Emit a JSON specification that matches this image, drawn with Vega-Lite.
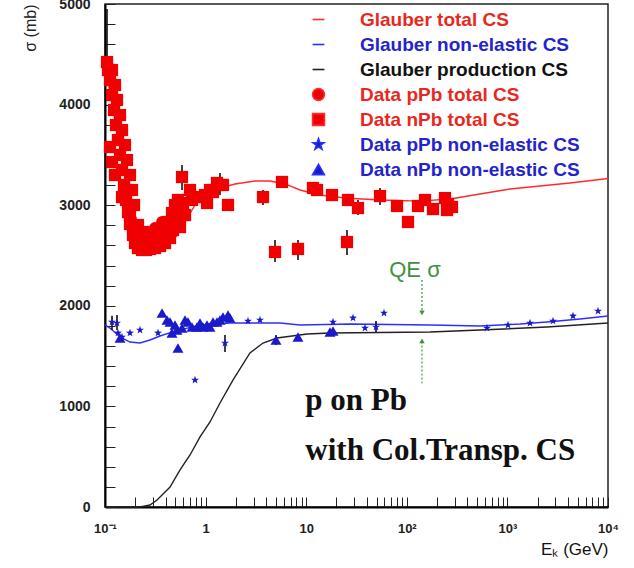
{
"$schema":"https://vega.github.io/schema/vega-lite/v6.json",
"width":503,"height":503,
"autosize":{"type":"none"},
"padding":{"left":105,"top":4,"right":26,"bottom":61},
"background":"white",
"config":{"view":{"stroke":"#222","strokeWidth":1.5},"font":"Liberation Sans"},
"resolve":{"axis":{"x":"independent","y":"independent"},"legend":{"color":"independent","shape":"independent"}},
"datasets":{
"curves":[
{"series":"Glauber total CS","E":0.1,"s":4400},{"series":"Glauber total CS","E":0.1257,"s":3847},{"series":"Glauber total CS","E":0.158,"s":3350},{"series":"Glauber total CS","E":0.1987,"s":2902},{"series":"Glauber total CS","E":0.2498,"s":2654},{"series":"Glauber total CS","E":0.314,"s":2555},{"series":"Glauber total CS","E":0.395,"s":2574},{"series":"Glauber total CS","E":0.4966,"s":2674},{"series":"Glauber total CS","E":0.624,"s":2833},{"series":"Glauber total CS","E":0.785,"s":3002},{"series":"Glauber total CS","E":0.986,"s":3101},{"series":"Glauber total CS","E":1.39,"s":3171},{"series":"Glauber total CS","E":1.96,"s":3211},{"series":"Glauber total CS","E":3.1,"s":3240},{"series":"Glauber total CS","E":4.37,"s":3240},{"series":"Glauber total CS","E":6.16,"s":3211},{"series":"Glauber total CS","E":8.68,"s":3151},{"series":"Glauber total CS","E":13.7,"s":3101},{"series":"Glauber total CS","E":24.3,"s":3071},{"series":"Glauber total CS","E":54.2,"s":3051},{"series":"Glauber total CS","E":135,"s":3041},{"series":"Glauber total CS","E":269,"s":3061},{"series":"Glauber total CS","E":534,"s":3111},{"series":"Glauber total CS","E":1061,"s":3161},{"series":"Glauber total CS","E":2109,"s":3191},{"series":"Glauber total CS","E":4192,"s":3220},{"series":"Glauber total CS","E":10000,"s":3265},
{"series":"Glauber non-elastic CS","E":0.1,"s":1810},{"series":"Glauber non-elastic CS","E":0.112,"s":1779},{"series":"Glauber non-elastic CS","E":0.141,"s":1690},{"series":"Glauber non-elastic CS","E":0.177,"s":1640},{"series":"Glauber non-elastic CS","E":0.223,"s":1630},{"series":"Glauber non-elastic CS","E":0.28,"s":1660},{"series":"Glauber non-elastic CS","E":0.352,"s":1700},{"series":"Glauber non-elastic CS","E":0.497,"s":1749},{"series":"Glauber non-elastic CS","E":0.88,"s":1809},{"series":"Glauber non-elastic CS","E":1.75,"s":1829},{"series":"Glauber non-elastic CS","E":5.49,"s":1829},{"series":"Glauber non-elastic CS","E":8.68,"s":1809},{"series":"Glauber non-elastic CS","E":27.3,"s":1819},{"series":"Glauber non-elastic CS","E":170,"s":1809},{"series":"Glauber non-elastic CS","E":534,"s":1799},{"series":"Glauber non-elastic CS","E":1334,"s":1819},{"series":"Glauber non-elastic CS","E":2475,"s":1839},{"series":"Glauber non-elastic CS","E":5269,"s":1869},{"series":"Glauber non-elastic CS","E":10000,"s":1899},
{"series":"Glauber production CS","E":0.1,"s":0},{"series":"Glauber production CS","E":0.223,"s":0},{"series":"Glauber production CS","E":0.28,"s":20},{"series":"Glauber production CS","E":0.329,"s":70},{"series":"Glauber production CS","E":0.443,"s":199},{"series":"Glauber production CS","E":0.557,"s":368},{"series":"Glauber production CS","E":0.7,"s":517},{"series":"Glauber production CS","E":0.88,"s":696},{"series":"Glauber production CS","E":1.106,"s":845},{"series":"Glauber production CS","E":1.39,"s":1034},{"series":"Glauber production CS","E":1.87,"s":1262},{"series":"Glauber production CS","E":2.76,"s":1531},{"series":"Glauber production CS","E":3.72,"s":1630},{"series":"Glauber production CS","E":5.13,"s":1680},{"series":"Glauber production CS","E":10.2,"s":1720},{"series":"Glauber production CS","E":17.2,"s":1730},{"series":"Glauber production CS","E":170,"s":1740},{"series":"Glauber production CS","E":534,"s":1759},{"series":"Glauber production CS","E":2475,"s":1789},{"series":"Glauber production CS","E":10000,"s":1829}
],
"points":[
{"series":"Data nPb total CS","E":0.1047,"s":4423,"lo":4300,"hi":4950},{"series":"Data nPb total CS","E":0.1071,"s":4344},{"series":"Data nPb total CS","E":0.1121,"s":4244},{"series":"Data nPb total CS","E":0.1174,"s":4095},{"series":"Data nPb total CS","E":0.1229,"s":3946},{"series":"Data nPb total CS","E":0.1286,"s":3797},{"series":"Data nPb total CS","E":0.1346,"s":3648},{"series":"Data nPb total CS","E":0.141,"s":3499},{"series":"Data nPb total CS","E":0.1476,"s":3350},{"series":"Data nPb total CS","E":0.1545,"s":3201},{"series":"Data nPb total CS","E":0.1617,"s":3052},{"series":"Data nPb total CS","E":0.1693,"s":2932},{"series":"Data nPb total CS","E":0.1772,"s":2813},{"series":"Data nPb total CS","E":0.1898,"s":2704},{"series":"Data nPb total CS","E":0.1987,"s":2624},{"series":"Data nPb total CS","E":0.2128,"s":2574},{"series":"Data nPb total CS","E":0.2333,"s":2555},{"series":"Data nPb total CS","E":0.2556,"s":2555},{"series":"Data nPb total CS","E":0.2802,"s":2565},{"series":"Data nPb total CS","E":0.3141,"s":2574},{"series":"Data nPb total CS","E":0.3523,"s":2594},{"series":"Data nPb total CS","E":0.3951,"s":2624},{"series":"Data nPb total CS","E":0.443,"s":2674},{"series":"Data nPb total CS","E":0.4743,"s":2753},{"series":"Data nPb total CS","E":0.5082,"s":2833},{"series":"Data nPb total CS","E":0.5316,"s":2922},
{"series":"Data nPb total CS","E":0.1174,"s":4344},{"series":"Data nPb total CS","E":0.1257,"s":4195},{"series":"Data nPb total CS","E":0.1316,"s":4046},{"series":"Data nPb total CS","E":0.141,"s":3896},{"series":"Data nPb total CS","E":0.1476,"s":3747},{"series":"Data nPb total CS","E":0.158,"s":3598},{"series":"Data nPb total CS","E":0.1654,"s":3449},{"series":"Data nPb total CS","E":0.1772,"s":3300},{"series":"Data nPb total CS","E":0.1855,"s":3151},{"series":"Data nPb total CS","E":0.1942,"s":3002},{"series":"Data nPb total CS","E":0.2128,"s":2803},{"series":"Data nPb total CS","E":0.2333,"s":2734},{"series":"Data nPb total CS","E":0.423,"s":2833},{"series":"Data nPb total CS","E":0.4634,"s":2922},{"series":"Data nPb total CS","E":0.4966,"s":3002},{"series":"Data nPb total CS","E":0.5316,"s":3052},
{"series":"Data nPb total CS","E":0.1121,"s":3578},{"series":"Data nPb total CS","E":0.1174,"s":3429},{"series":"Data nPb total CS","E":0.1257,"s":3300},{"series":"Data nPb total CS","E":0.1476,"s":3081},{"series":"Data nPb total CS","E":0.1772,"s":2922},{"series":"Data nPb total CS","E":0.1898,"s":2783},
{"series":"Data nPb total CS","E":0.5827,"s":3280,"lo":3151,"hi":3400},{"series":"Data nPb total CS","E":0.5962,"s":3022},{"series":"Data nPb total CS","E":0.5566,"s":2783},{"series":"Data nPb total CS","E":0.6242,"s":2902},{"series":"Data nPb total CS","E":0.6998,"s":3151},{"series":"Data nPb total CS","E":0.7326,"s":3052},{"series":"Data nPb total CS","E":0.8801,"s":3081},{"series":"Data nPb total CS","E":0.986,"s":3101},{"series":"Data nPb total CS","E":1.033,"s":3022},{"series":"Data nPb total CS","E":1.106,"s":3151},{"series":"Data nPb total CS","E":1.185,"s":3131},{"series":"Data nPb total CS","E":1.298,"s":3221},{"series":"Data nPb total CS","E":1.39,"s":3201,"lo":3101,"hi":3320},{"series":"Data nPb total CS","E":1.489,"s":3201},{"series":"Data nPb total CS","E":1.67,"s":3002},{"series":"Data nPb total CS","E":3.721,"s":3081,"lo":3002,"hi":3151},{"series":"Data nPb total CS","E":5.746,"s":3231},{"series":"Data nPb total CS","E":11.68,"s":3171},{"series":"Data nPb total CS","E":12.81,"s":3151},{"series":"Data nPb total CS","E":18.05,"s":3101},{"series":"Data nPb total CS","E":26.03,"s":3052},{"series":"Data nPb total CS","E":32.73,"s":2972,"lo":2902,"hi":3052},{"series":"Data nPb total CS","E":54.16,"s":3091,"lo":3002,"hi":3171},{"series":"Data nPb total CS","E":79.91,"s":2992},{"series":"Data nPb total CS","E":102.8,"s":2833},{"series":"Data nPb total CS","E":129.2,"s":2992},{"series":"Data nPb total CS","E":151.7,"s":3052},{"series":"Data nPb total CS","E":182.2,"s":2962},{"series":"Data nPb total CS","E":239.8,"s":3071,"lo":3002,"hi":3121},{"series":"Data nPb total CS","E":251,"s":2952},{"series":"Data nPb total CS","E":256.8,"s":3012},{"series":"Data nPb total CS","E":281.4,"s":2982},{"series":"Data nPb total CS","E":4.897,"s":2535,"lo":2435,"hi":2654},{"series":"Data nPb total CS","E":8.288,"s":2565,"lo":2455,"hi":2654},{"series":"Data nPb total CS","E":25.44,"s":2634,"lo":2505,"hi":2753},
{"series":"Data pPb total CS","E":0.2333,"s":2654},{"series":"Data pPb total CS","E":0.2556,"s":2654},{"series":"Data pPb total CS","E":0.2802,"s":2654},{"series":"Data pPb total CS","E":0.3141,"s":2674},{"series":"Data pPb total CS","E":0.3523,"s":2704},{"series":"Data pPb total CS","E":0.3951,"s":2753},{"series":"Data pPb total CS","E":0.2676,"s":2734},{"series":"Data pPb total CS","E":0.3141,"s":2773},{"series":"Data pPb total CS","E":0.3689,"s":2833},
{"series":"Data pPb non-elastic CS","E":0.1174,"s":1839,"lo":1760,"hi":1900},{"series":"Data pPb non-elastic CS","E":0.1316,"s":1829,"lo":1759,"hi":1908},{"series":"Data pPb non-elastic CS","E":0.1346,"s":1730},{"series":"Data pPb non-elastic CS","E":0.1476,"s":1690},{"series":"Data pPb non-elastic CS","E":0.1772,"s":1730},{"series":"Data pPb non-elastic CS","E":0.2228,"s":1759},{"series":"Data pPb non-elastic CS","E":0.3365,"s":1730},{"series":"Data pPb non-elastic CS","E":0.785,"s":1262},{"series":"Data pPb non-elastic CS","E":1.559,"s":1630,"lo":1541,"hi":1710},{"series":"Data pPb non-elastic CS","E":2.639,"s":1849},{"series":"Data pPb non-elastic CS","E":3.474,"s":1859},{"series":"Data pPb non-elastic CS","E":18.47,"s":1839},{"series":"Data pPb non-elastic CS","E":29.19,"s":1879},{"series":"Data pPb non-elastic CS","E":38.42,"s":1779},{"series":"Data pPb non-elastic CS","E":49.42,"s":1789,"lo":1740,"hi":1850},{"series":"Data pPb non-elastic CS","E":59.36,"s":1928},{"series":"Data pPb non-elastic CS","E":627,"s":1779},{"series":"Data pPb non-elastic CS","E":1014,"s":1809},{"series":"Data pPb non-elastic CS","E":1678,"s":1829},{"series":"Data pPb non-elastic CS","E":2841,"s":1849},{"series":"Data pPb non-elastic CS","E":4489,"s":1899},{"series":"Data pPb non-elastic CS","E":7958,"s":1948},
{"series":"Data nPb non-elastic CS","E":0.141,"s":1680},{"series":"Data nPb non-elastic CS","E":0.3689,"s":1928},{"series":"Data nPb non-elastic CS","E":0.4136,"s":1859},{"series":"Data nPb non-elastic CS","E":0.443,"s":1839},{"series":"Data nPb non-elastic CS","E":0.4634,"s":1730},{"series":"Data nPb non-elastic CS","E":0.4966,"s":1809},{"series":"Data nPb non-elastic CS","E":0.5195,"s":1759},{"series":"Data nPb non-elastic CS","E":0.5316,"s":1580},{"series":"Data nPb non-elastic CS","E":0.5827,"s":1779},{"series":"Data nPb non-elastic CS","E":0.6242,"s":1859},{"series":"Data nPb non-elastic CS","E":0.6683,"s":1839},{"series":"Data nPb non-elastic CS","E":0.7326,"s":1789},{"series":"Data nPb non-elastic CS","E":0.8218,"s":1789},{"series":"Data nPb non-elastic CS","E":0.8801,"s":1829},{"series":"Data nPb non-elastic CS","E":0.9424,"s":1789},{"series":"Data nPb non-elastic CS","E":1.033,"s":1809},{"series":"Data nPb non-elastic CS","E":1.106,"s":1789},{"series":"Data nPb non-elastic CS","E":1.185,"s":1839},{"series":"Data nPb non-elastic CS","E":1.298,"s":1839},{"series":"Data nPb non-elastic CS","E":1.39,"s":1859},{"series":"Data nPb non-elastic CS","E":1.489,"s":1889},{"series":"Data nPb non-elastic CS","E":1.67,"s":1908},{"series":"Data nPb non-elastic CS","E":1.748,"s":1879},{"series":"Data nPb non-elastic CS","E":5.01,"s":1660,"lo":1610,"hi":1710},{"series":"Data nPb non-elastic CS","E":8.288,"s":1690},{"series":"Data nPb non-elastic CS","E":17.24,"s":1740},{"series":"Data nPb non-elastic CS","E":18.47,"s":1749}
],
"qe":[{"E":141.6,"top":2256,"bot":1935},{"E":141.6,"top":1645,"bot":1230}],
"qeDown":[{"E":141.6,"s":1930}],
"qeUp":[{"E":141.6,"s":1652}],
"qeText":[{"E":120.6,"s":2286,"label":"QE σ"}],
"bigText":[{"E":9.8,"s":964,"label":"p on Pb"},{"E":9.8,"s":467,"label":"with Col.Transp. CS"}]
},
"layer":[
{"data":{"name":"curves"},
 "mark":{"type":"line","strokeWidth":1.4},
 "encoding":{
  "x":{"field":"E","type":"quantitative","scale":{"type":"log","domain":[0.1,10000]},
   "axis":{"orient":"bottom","values":[0.1,0.2,0.3,0.4,0.5,0.6,0.7,0.8,0.9,1,2,3,4,5,6,7,8,9,10,20,30,40,50,60,70,80,90,100,200,300,400,500,600,700,800,900,1000,2000,3000,4000,5000,6000,7000,8000,9000,10000],
    "labelExpr":"datum.value == 0.1 ? '10⁻¹' : datum.value == 1 ? '1' : datum.value == 10 ? '10' : datum.value == 100 ? '10²' : datum.value == 1000 ? '10³' : datum.value == 10000 ? '10⁴' : ''",
    "labelFont":"Liberation Sans","labelFontWeight":"bold","labelFontSize":13,"labelColor":"#222","labelPadding":25,"labelFlush":false,"labelOverlap":false,"labelBaseline":"top",
    "tickSize":-10,"tickColor":"#222","tickWidth":1,"domainColor":"#000","domainWidth":2,"grid":false,
    "encode":{"ticks":{"y2":{"condition":{"test":"datum.value == 0.1 || datum.value == 1 || datum.value == 10 || datum.value == 100 || datum.value == 1000 || datum.value == 10000","value":-10},"value":-5}}},
    "title":"Eₖ (GeV)","titleFont":"Liberation Sans","titleFontSize":17,"titleFontWeight":"normal","titleColor":"#111","titleAlign":"right","titleAnchor":"end","titleX":503,"titleY":47,"titleBaseline":"alphabetic"}},
  "y":{"field":"s","type":"quantitative","scale":{"domain":[0,5000]},
   "axis":{"orient":"left","values":[0,200,400,600,800,1000,1200,1400,1600,1800,2000,2200,2400,2600,2800,3000,3200,3400,3600,3800,4000,4200,4400,4600,4800,5000],
    "labelExpr":"datum.value % 1000 == 0 ? datum.value + '' : ''",
    "labelFont":"Liberation Sans","labelFontWeight":"bold","labelFontSize":14,"labelColor":"#222","labelPadding":25,"labelFlush":false,"labelOverlap":false,
    "tickSize":-10,"tickColor":"#222","tickWidth":1,"domainColor":"#000","domainWidth":2,"grid":false,
    "encode":{"ticks":{"x2":{"condition":{"test":"datum.value % 1000 == 0","value":10},"value":5}}},
    "title":"σ (mb)","titleFont":"Liberation Sans","titleFontSize":16,"titleFontWeight":"normal","titleColor":"#222","titleAngle":-90,"titleAlign":"right","titleAnchor":"end","titleX":-75,"titleY":0,"titleBaseline":"middle"}},
  "color":{"field":"series","type":"nominal",
   "scale":{"domain":["Glauber total CS","Glauber non-elastic CS","Glauber production CS","Data pPb total CS","Data nPb total CS","Data pPb non-elastic CS","Data nPb non-elastic CS"],
            "range":["#ff2a2a","#2e2eff","#222222","#f00000","#f00000","#1a1acc","#1a1acc"]},
   "legend":null}
 }},
{"data":{"name":"points"},
 "transform":[{"filter":"isValid(datum.lo)"}],
 "mark":{"type":"rule","color":"#111","strokeWidth":1.6},
 "encoding":{
  "x":{"field":"E","type":"quantitative","axis":null},
  "y":{"field":"lo","type":"quantitative","axis":null},
  "y2":{"field":"hi"}
 }},
{"data":{"name":"points"},
 "transform":[{"filter":{"field":"series","equal":"Data pPb total CS"}}],
 "mark":{"type":"point","filled":true,"opacity":1,"size":140},
 "encoding":{
  "x":{"field":"E","type":"quantitative","axis":null},
  "y":{"field":"s","type":"quantitative","axis":null},
  "color":{"field":"series","type":"nominal",
   "legend":{"orient":"none","legendX":204,"legendY":6,"title":null,
    "labelFont":"Liberation Sans","labelFontSize":19,"labelFontWeight":"bold","labelLimit":400,
    "labelColor":{"expr":"datum.value == 'Glauber production CS' ? '#111111' : (indexof(datum.value, 'non-elastic') >= 0 ? '#2424cc' : '#e8281e')"},
    "symbolStrokeColor":{"expr":"datum.value == 'Glauber production CS' ? '#222222' : (indexof(datum.value, 'non-elastic') >= 0 ? '#2e2eff' : '#ff2a2a')"},
    "symbolStrokeWidth":1.6,
    "symbolSize":140,"labelOffset":32,"rowPadding":5}},
  "shape":{"field":"series","type":"nominal","legend":null,
   "scale":{"domain":["Glauber total CS","Glauber non-elastic CS","Glauber production CS","Data pPb total CS","Data nPb total CS","Data pPb non-elastic CS","Data nPb non-elastic CS"],
            "range":["stroke","stroke","stroke","circle","square","M0,-1L0.235,-0.324L0.951,-0.309L0.38,0.124L0.588,0.809L0,0.4L-0.588,0.809L-0.38,0.124L-0.951,-0.309L-0.235,-0.324Z","triangle-up"]}}
 }},
{"data":{"name":"points"},
 "transform":[{"filter":{"field":"series","equal":"Data nPb total CS"}}],
 "mark":{"type":"point","filled":true,"opacity":1,"size":150},
 "encoding":{
  "x":{"field":"E","type":"quantitative","axis":null},
  "y":{"field":"s","type":"quantitative","axis":null},
  "color":{"field":"series","type":"nominal","legend":null},
  "shape":{"field":"series","type":"nominal","legend":null}
 }},
{"data":{"name":"points"},
 "transform":[{"filter":{"field":"series","equal":"Data nPb non-elastic CS"}}],
 "mark":{"type":"point","filled":true,"opacity":1,"size":120},
 "encoding":{
  "x":{"field":"E","type":"quantitative","axis":null},
  "y":{"field":"s","type":"quantitative","axis":null},
  "color":{"field":"series","type":"nominal","legend":null},
  "shape":{"field":"series","type":"nominal","legend":null}
 }},
{"data":{"name":"points"},
 "transform":[{"filter":{"field":"series","equal":"Data pPb non-elastic CS"}}],
 "mark":{"type":"point","filled":true,"opacity":1,"size":70},
 "encoding":{
  "x":{"field":"E","type":"quantitative","axis":null},
  "y":{"field":"s","type":"quantitative","axis":null},
  "color":{"field":"series","type":"nominal","legend":null},
  "shape":{"field":"series","type":"nominal","legend":null}
 }},
{"data":{"name":"qe"},
 "mark":{"type":"rule","color":"#3f913f","strokeWidth":1.2,"strokeDash":[2,2]},
 "encoding":{
  "x":{"field":"E","type":"quantitative","axis":null},
  "y":{"field":"top","type":"quantitative","axis":null},
  "y2":{"field":"bot"}
 }},
{"data":{"name":"qeDown"},
 "mark":{"type":"point","shape":"triangle-down","filled":true,"color":"#3f913f","size":30,"opacity":1},
 "encoding":{
  "x":{"field":"E","type":"quantitative","axis":null},
  "y":{"field":"s","type":"quantitative","axis":null}
 }},
{"data":{"name":"qeUp"},
 "mark":{"type":"point","shape":"triangle-up","filled":true,"color":"#3f913f","size":30,"opacity":1},
 "encoding":{
  "x":{"field":"E","type":"quantitative","axis":null},
  "y":{"field":"s","type":"quantitative","axis":null}
 }},
{"data":{"name":"qeText"},
 "mark":{"type":"text","font":"Liberation Sans","fontSize":22,"color":"#3f913f","align":"center","baseline":"alphabetic"},
 "encoding":{
  "x":{"field":"E","type":"quantitative","axis":null},
  "y":{"field":"s","type":"quantitative","axis":null},
  "text":{"field":"label"}
 }},
{"data":{"name":"bigText"},
 "mark":{"type":"text","font":"Liberation Serif","fontWeight":"bold","fontSize":31,"color":"#111","align":"left","baseline":"alphabetic"},
 "encoding":{
  "x":{"field":"E","type":"quantitative","axis":null},
  "y":{"field":"s","type":"quantitative","axis":null},
  "text":{"field":"label"}
 }}
]
}
